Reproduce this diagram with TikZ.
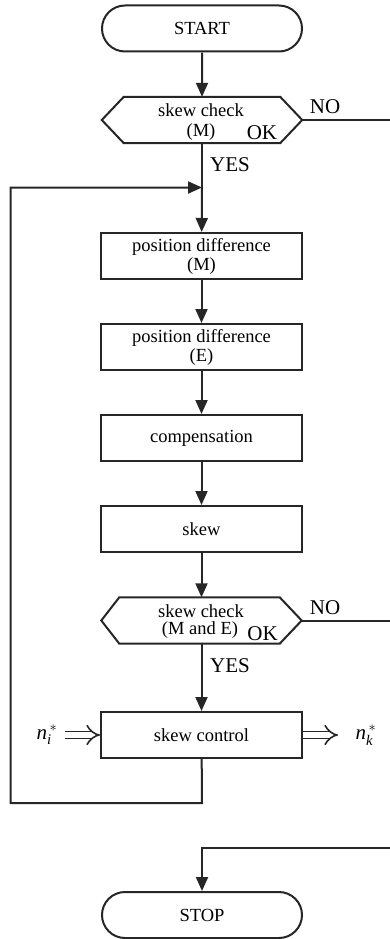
\documentclass[tikz,border=0pt]{standalone}
\usepackage{amsmath}
\usepackage{fontspec}
\setmainfont{Liberation Serif}
\usetikzlibrary{arrows.meta,shapes.misc}
\begin{document}
\begin{tikzpicture}[x=1pt,y=-1pt,
  every node/.style={font=\fontsize{18.5}{21}\selectfont},
  line/.style={line width=2pt, draw=black!85},
  arr/.style={line, -{Triangle[length=14pt,width=12pt]}},
  dbl/.style={line width=1.6pt, draw=black!85, double, double distance=5.5pt, -{Implies[length=7pt]}},
  term/.style={rounded rectangle, line, minimum width=200pt, minimum height=46pt, inner sep=0pt},
  proc/.style={rectangle, line, minimum width=201pt, minimum height=46pt, inner sep=0pt, align=center},
  dec/.style={rectangle, minimum width=200pt, minimum height=46pt, inner sep=0pt},
  lbl/.style={font=\fontsize{21}{23}\selectfont, inner sep=0pt},
  sml/.style={inner sep=0pt}
]
\useasboundingbox[fill=white] (0,0) rectangle (390,939);

\node[term] (start) at (202,28.5) {START};

\node[dec] (d1) at (202,120) {};
\draw[line] (d1.west) -- ([xshift=22pt]d1.north west) -- ([xshift=-22pt]d1.north east) -- (d1.east) -- ([xshift=-22pt]d1.south east) -- ([xshift=22pt]d1.south west) -- cycle;
\node[sml] (d1a) at (201,110) {skew check};
\node[sml] (d1b) at (201,132) {(M)};
\node[lbl] (d1ok) at (262,133) {OK};
\node[lbl] (no1) at (325,107) {NO};
\node[lbl] (yes1) at (230,165) {YES};

\node[proc] (p1) at (201.5,256) {position difference\\[-2pt](M)};
\node[proc] (p2) at (201.5,347) {position difference\\[-2pt](E)};
\node[proc] (p3) at (201.5,438) {compensation};
\node[proc] (p4) at (201.5,529) {skew};

\node[dec] (d2) at (201.5,620.5) {};
\draw[line] (d2.west) -- ([xshift=18pt]d2.north west) -- ([xshift=-22pt]d2.north east) -- (d2.east) -- ([xshift=-22pt]d2.south east) -- ([xshift=18pt]d2.south west) -- cycle;
\node[sml] (d2a) at (201,611) {skew check};
\node[sml] (d2b) at (200,630) {(M and E)};
\node[lbl] (d2ok) at (262.5,634) {OK};
\node[lbl] (no2) at (325,608) {NO};
\node[lbl] (yes2) at (230,666) {YES};

\node[proc] (sc) at (201.5,735) {skew control};
\node[lbl] (ni) at (47,735) {\textit{n}$_{\textit{i}}^{\,*}$};
\node[lbl] (nk) at (366,735) {\textit{n}$_{\textit{k}}^{\,*}$};

\node[term] (stop) at (202,915) {STOP};

\coordinate (join) at (202,187.5);
\coordinate (loopb) at (202,803);
\coordinate (loopl) at (10.5,803);
\coordinate (r1) at (392,120);
\coordinate (r2) at (392,620.5);
\coordinate (r3) at (392,848);

\draw[arr] (start) -- (d1);
\draw[line] (d1) -- (join);
\draw[arr] (join) -- (p1);
\draw[arr] (p1) -- (p2);
\draw[arr] (p2) -- (p3);
\draw[arr] (p3) -- (p4);
\draw[arr] (p4) -- (d2);
\draw[arr] (d2) -- (sc);
\draw[arr] (sc) -- (loopb) -- (loopl) |- (join);
\draw[line] (d1.east) -- (r1) -- (r3);
\draw[line] (d2.east) -- (r2);
\draw[arr] (r3) -| (stop);
\draw[dbl] (65,735) -- (sc.west);
\draw[dbl] (sc.east) -- (338,735);
\end{tikzpicture}
\end{document}
